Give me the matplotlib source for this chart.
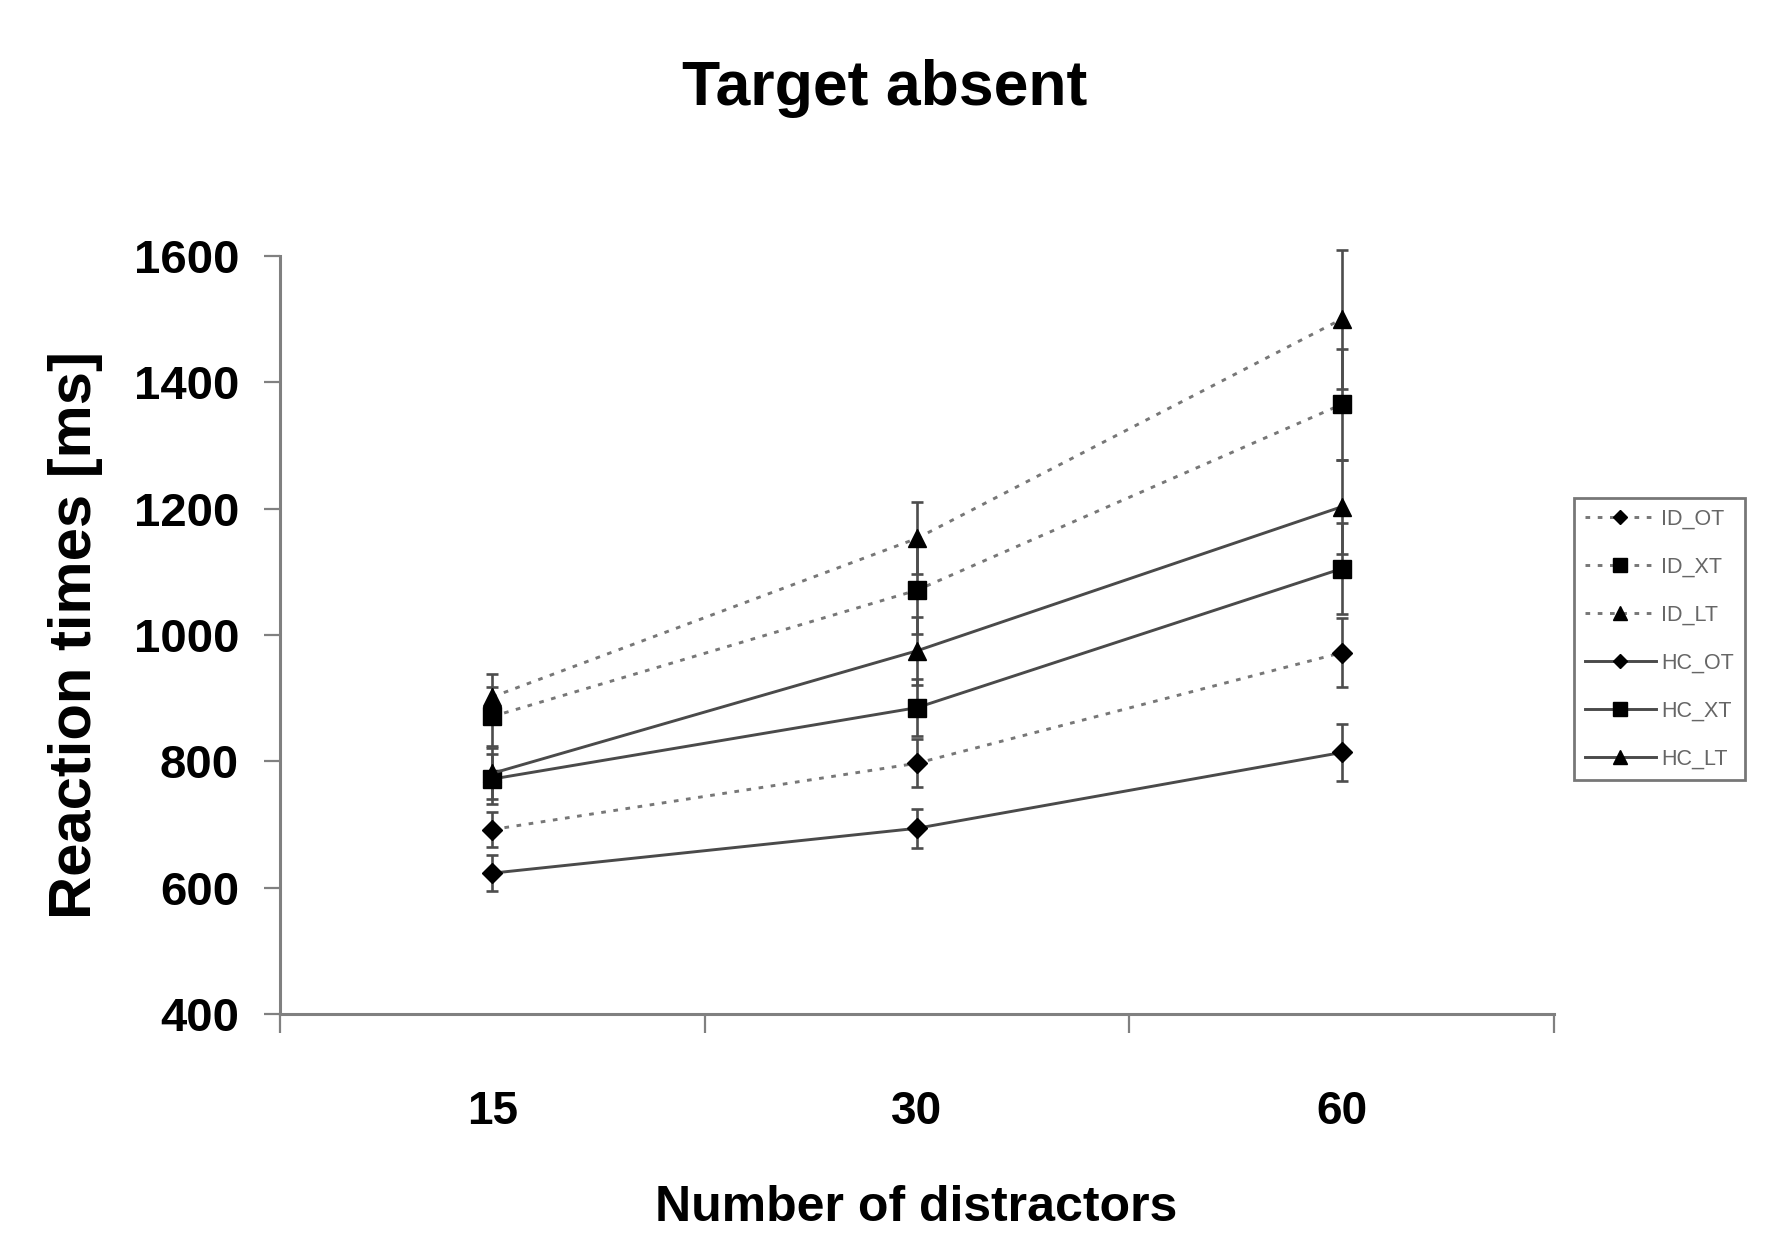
import matplotlib
matplotlib.use("Agg")
import matplotlib.pyplot as plt
from matplotlib.ticker import FixedLocator, NullFormatter, FixedFormatter

# ---------------- data ----------------
categories = ["15", "30", "60"]

id_ot = [692, 797, 972]
id_ot_err = [28, 38, 55]
id_xt = [871, 1071, 1365]
id_xt_err = [46, 70, 88]
id_lt = [902, 1153, 1500]
id_lt_err = [36, 57, 110]

hc_ot = [623, 694, 814]
hc_ot_err = [28, 31, 45]
hc_xt = [772, 885, 1105]
hc_xt_err = [40, 45, 72]
hc_lt = [781, 975, 1203]
hc_lt_err = [40, 54, 74]

series_names = ["ID_OT", "ID_XT", "ID_LT", "HC_OT", "HC_XT", "HC_LT"]
y_ticks = [400, 600, 800, 1000, 1200, 1400, 1600]

# ---------------- styling ----------------
BOLD = ["Liberation Sans", "DejaVu Sans"]

fig = plt.figure(figsize=(17.76, 12.34), dpi=100)
ax = fig.add_axes([280 / 1776, 1 - 1014 / 1234, (1554 - 280) / 1776, (1014 - 256) / 1234])

xpos = [i + 0.5 for i in range(len(categories))]

series = [
    (id_ot, id_ot_err, "D", 10, (0, (1.6, 2.6)), "#777777"),
    (id_xt, id_xt_err, "s", 13, (0, (1.6, 2.6)), "#777777"),
    (id_lt, id_lt_err, "^", 13.5, (0, (1.6, 2.6)), "#777777"),
    (hc_ot, hc_ot_err, "D", 10, "-", "#4a4a4a"),
    (hc_xt, hc_xt_err, "s", 13, "-", "#4a4a4a"),
    (hc_lt, hc_lt_err, "^", 13.5, "-", "#4a4a4a"),
]

for vals, errs, mk, ms, ls, col in series:
    ax.errorbar(xpos, vals, yerr=errs, fmt="none", ecolor="#4d4d4d",
                elinewidth=1.9, capsize=4.5, capthick=1.9, zorder=2, clip_on=False)

for (vals, errs, mk, ms, ls, col), name in zip(series, series_names):
    ax.plot(xpos, vals, linestyle=ls, color=col, linewidth=2.1,
            marker=mk, markersize=ms, markerfacecolor="black",
            markeredgecolor="black", label=name, zorder=3, clip_on=False)

ax.set_xlim(0, 3)
ax.set_ylim(400, 1600)

for s in ["top", "right"]:
    ax.spines[s].set_visible(False)
for s in ["left", "bottom"]:
    ax.spines[s].set_color("#808080")
    ax.spines[s].set_linewidth(2.2)

ax.set_yticks(y_ticks)
ax.set_yticklabels([str(v) for v in y_ticks])
ax.tick_params(axis="y", direction="out", length=11.5, width=1.6, color="#808080", pad=18)
for lab in ax.get_yticklabels():
    lab.set_fontfamily(BOLD)
    lab.set_fontweight("bold")
    lab.set_fontsize(34)

ax.xaxis.set_major_locator(FixedLocator([0, 1, 2, 3]))
ax.xaxis.set_major_formatter(NullFormatter())
ax.xaxis.set_minor_locator(FixedLocator(xpos))
ax.xaxis.set_minor_formatter(FixedFormatter(categories))
ax.tick_params(axis="x", which="major", direction="out", length=14, width=1.6, color="#808080")
ax.tick_params(axis="x", which="minor", length=0, pad=55)
for lab in ax.get_xticklabels(minor=True):
    lab.set_fontfamily(BOLD)
    lab.set_fontweight("bold")
    lab.set_fontsize(33)

ax.set_ylabel("Reaction times [ms]", fontfamily=BOLD, fontweight="bold", fontsize=43)
ax.yaxis.set_label_coords((103 - 280) / 1274, 0.50)

fig.text(916 / 1776, 3 / 1234, "Number of distractors", ha="center", va="bottom",
         fontfamily=BOLD, fontweight="bold", fontsize=36)

fig.text(885 / 1776, 1 - 88 / 1234, "Target absent", ha="center", va="center",
         fontfamily=BOLD, fontweight="bold", fontsize=45)

leg = ax.legend(loc="upper left", bbox_to_anchor=(1574 / 1776, 1 - 498 / 1234),
                bbox_transform=fig.transFigure, borderaxespad=0, numpoints=1,
                fancybox=False, frameon=True, handlelength=3.3, handletextpad=0.25,
                labelspacing=1.25, borderpad=0.5,
                prop={"family": BOLD[0], "size": 15.5})
leg.get_frame().set_edgecolor("#555555")
leg.get_frame().set_linewidth(2.0)
for t in leg.get_texts():
    t.set_color("#666666")
for h in leg.legend_handles:
    h.set_markersize(h.get_markersize() * 0.75)

fig.savefig("out.png", dpi=100, facecolor="white")
